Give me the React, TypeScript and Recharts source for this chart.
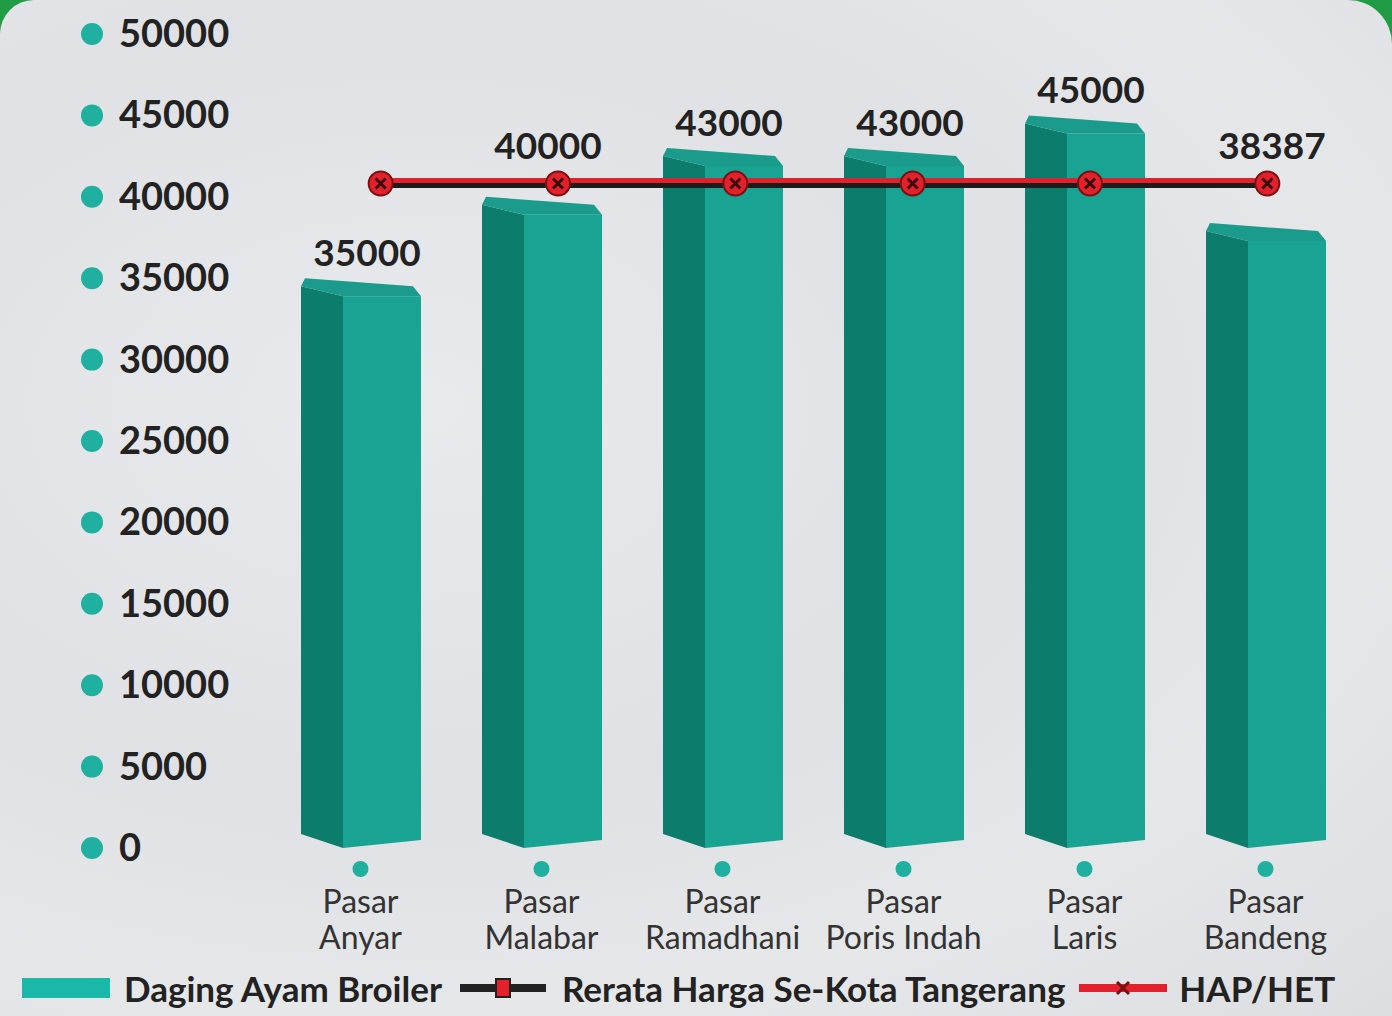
import { ComposedChart, Bar, Line, XAxis, YAxis, LabelList, Legend } from 'recharts';

const pasar = [
  'Pasar Anyar',
  'Pasar Malabar',
  'Pasar Ramadhani',
  'Pasar Poris Indah',
  'Pasar Laris',
  'Pasar Bandeng',
];
const hargaBroiler = [35000, 40000, 43000, 43000, 45000, 38387];
const rerataKota = [40731, 40731, 40731, 40731, 40731, 40731];
const hapHet = [41000, 41000, 41000, 41000, 41000, 41000];
const yTicks = [0, 5000, 10000, 15000, 20000, 25000, 30000, 35000, 40000, 45000, 50000];

const data = pasar.map((nama, i) => ({
  nama,
  broiler: hargaBroiler[i],
  rerata: rerataKota[i],
  hap: hapHet[i],
}));

const FONT = 'Lato, "Noto Sans", sans-serif';
const TEAL = '#18a392';
const TEAL_SIDE = '#0c7c6c';
const TEAL_TOP = '#1b9b8b';

// posisi garis HAP dalam piksel, untuk menaruh label di atas garis bila baloknya sedikit di bawahnya
const PLOT_TOP = 34;
const PLOT_BOTTOM = 848;
const yPx = (v: number) => PLOT_BOTTOM - (v / 50000) * (PLOT_BOTTOM - PLOT_TOP);

// balok 3D: sisi kiri gelap, muka depan, tutup atas miring
const Balok3D = (props: any) => {
  const { x, y, width, height } = props;
  if (!height || height <= 0) return null;
  const s = width * 0.35;
  const bottom = y + height;
  const top = `${x + 4},${y} ${x + width - 8},${y + 8} ${x + width},${y + 18} ${x + s},${y + 18} ${x},${y + 8}`;
  const side = `${x},${y + 8} ${x + s},${y + 18} ${x + s},${bottom} ${x},${bottom - 14}`;
  const front = `${x + s},${y + 18} ${x + width},${y + 18} ${x + width},${bottom - 8} ${x + s},${bottom}`;
  return (
    <g>
      <polygon points={side} fill={TEAL_SIDE} />
      <polygon points={front} fill={TEAL} />
      <polygon points={top} fill={TEAL_TOP} />
    </g>
  );
};

const LabelNilai = (props: any) => {
  const { x, y, width, value } = props;
  const garis = yPx(Math.max(...hapHet));
  let base = y - 12;
  if (base > garis - 22 && base < garis + 60) base = garis - 22;
  return (
    <text
      x={x + width / 2 + 6}
      y={base}
      textAnchor="middle"
      fontFamily={FONT}
      fontSize={37}
      fontWeight={700}
      fill="#222"
    >
      {value}
    </text>
  );
};

const TickY = ({ y, payload }: any) => (
  <g>
    <circle cx={92} cy={y} r={11} fill="#1fb0a0" />
    <text x={119} y={y + 13} fontFamily={FONT} fontSize={38} fontWeight={700} fill="#222">
      {payload.value}
    </text>
  </g>
);

const TickX = ({ x, y, payload }: any) => {
  const [a, ...rest] = String(payload.value).split(' ');
  return (
    <g>
      <circle cx={x} cy={y + 21} r={8} fill="#1fb0a0" />
      <text x={x} y={y + 65} textAnchor="middle" fontFamily={FONT} fontSize={32} fill="#333">
        <tspan x={x}>{a}</tspan>
        <tspan x={x} dy={36}>
          {rest.join(' ')}
        </tspan>
      </text>
    </g>
  );
};

const TitikHap = ({ cx, cy }: any) => (
  <g>
    <circle cx={cx} cy={cy + 3} r={12} fill="#e3212d" stroke="#7a1010" strokeWidth={2} />
    <path
      d={`M${cx - 5},${cy - 2} L${cx + 5},${cy + 8} M${cx + 5},${cy - 2} L${cx - 5},${cy + 8}`}
      stroke="#3a0a0a"
      strokeWidth={3}
    />
  </g>
);

const TitikRerata = ({ cx, cy }: any) => (
  <rect x={cx - 7} y={cy - 7} width={14} height={14} fill="#e3212d" stroke="#7a1010" strokeWidth={1.5} />
);

const Legenda = () => (
  <div
    style={{
      display: 'flex',
      alignItems: 'center',
      height: 40,
      paddingLeft: 22,
      fontFamily: FONT,
      fontSize: 35,
      fontWeight: 700,
      color: '#222',
      whiteSpace: 'nowrap',
    }}
  >
    <svg width={88} height={20} style={{ marginRight: 14 }}>
      <rect width={88} height={20} fill="#1ab8a8" />
    </svg>
    <span style={{ marginRight: 18 }}>Daging Ayam Broiler</span>
    <svg width={86} height={24} style={{ marginRight: 16 }}>
      <rect y={8} width={86} height={8} fill="#222" />
      <rect x={36} y={3} width={14} height={18} fill="#e3212d" stroke="#222" strokeWidth={2} />
    </svg>
    <span style={{ marginRight: 14 }}>Rerata Harga Se-Kota Tangerang</span>
    <svg width={88} height={24} style={{ marginRight: 12 }}>
      <rect y={8} width={88} height={8} fill="#e3212d" />
      <path d="M38,6 L50,18 M50,6 L38,18" stroke="#7a1010" strokeWidth={3} />
    </svg>
    <span>HAP/HET</span>
  </div>
);

export default function App() {
  return (
    <div
      style={{
        position: 'absolute',
        left: 0,
        top: 0,
        width: 1392,
        height: 1016,
        overflow: 'hidden',
        background: '#1f9c45',
      }}
    >
      <div
        style={{
          position: 'absolute',
          left: 0,
          top: 0,
          width: 1392,
          height: 1016,
          borderTopLeftRadius: 34,
          borderTopRightRadius: 44,
          background:
            'radial-gradient(ellipse at 30% 40%, #e9eaec 0%, #dfe1e4 45%, #e6e7e9 70%, #dcdee1 100%)',
        }}
      />
      <ComposedChart
        width={1392}
        height={1016}
        data={data}
        margin={{ top: PLOT_TOP, right: 36, bottom: 8, left: 20 }}
        style={{ position: 'absolute', left: 0, top: 0 }}
      >
        <XAxis
          dataKey="nama"
          axisLine={false}
          tickLine={false}
          tickSize={0}
          tickMargin={0}
          height={120}
          interval={0}
          tick={<TickX />}
        />
        <XAxis xAxisId="garis" dataKey="nama" hide padding={{ left: 22, right: 0 }} />
        <YAxis
          domain={[0, 50000]}
          ticks={yTicks}
          axisLine={false}
          tickLine={false}
          width={250}
          interval={0}
          tick={<TickY />}
        />
        <Legend verticalAlign="bottom" wrapperStyle={{ left: 0, width: 1392, bottom: 8 }} content={<Legenda />} />
        <Bar dataKey="broiler" barSize={120} shape={<Balok3D />} isAnimationActive={false}>
          <LabelList dataKey="broiler" content={<LabelNilai />} />
        </Bar>
        <Line
          xAxisId="garis"
          dataKey="rerata"
          stroke="#1c1c1c"
          strokeWidth={6}
          dot={<TitikRerata />}
          isAnimationActive={false}
        />
        <Line
          xAxisId="garis"
          dataKey="hap"
          stroke="#e3212d"
          strokeWidth={5}
          dot={<TitikHap />}
          isAnimationActive={false}
        />
      </ComposedChart>
    </div>
  );
}
